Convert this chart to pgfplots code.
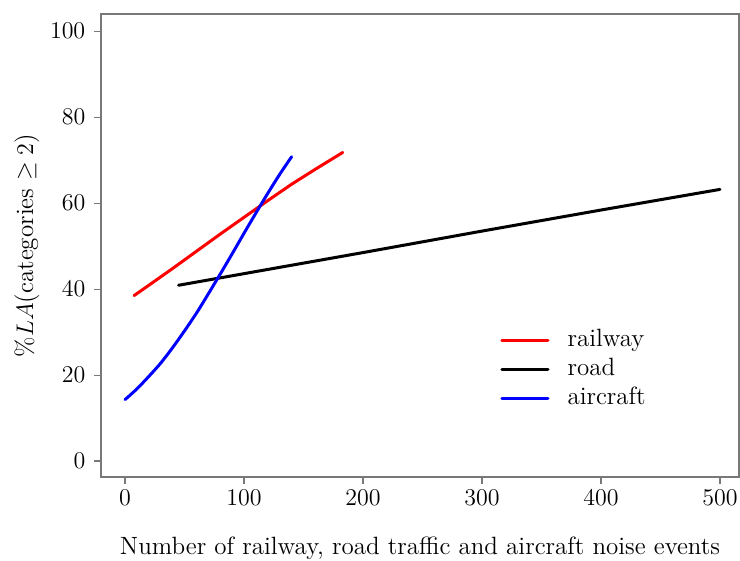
\documentclass[border=0pt]{standalone}
\usepackage{pgfplots}
\pgfplotsset{compat=1.18}
\definecolor{axgray}{RGB}{120,120,120}
\begin{document}
\fontsize{12.5}{15}\selectfont
\begin{tikzpicture}
\useasboundingbox (-50.5pt,-42pt) rectangle (319.5pt,238.5pt);
\begin{axis}[
  at={(0,0)}, anchor=south west,
  scale only axis, width=319pt, height=231.5pt,
  xmin=-20.2, xmax=516, ymin=-3.7, ymax=104,
  xtick={0,100,200,300,400,500},
  ytick={0,20,40,60,80,100},
  tick pos=left, tick align=outside, major tick length=3.5pt,
  axis line style={axgray, line width=0.6pt},
  tick style={axgray, line width=0.6pt},
  tick label style={black},
  xticklabel style={yshift=1.5pt},
  xlabel={Number of railway, road traffic and aircraft noise events},
  ylabel={\%$LA$(categories $\geq 2$)},
  xlabel style={at={(axis description cs:0.5,0)}, anchor=center, yshift=-35.5pt, black},
  ylabel style={at={(axis description cs:0,0.5)}, anchor=center, yshift=37pt, black},
  legend style={at={(axis description cs:0.6254,0.327)}, anchor=north west, draw=none, fill=none,
    inner sep=0pt, row sep=0pt, column sep=8pt,
    nodes={inner sep=1pt, text height=0.75em, text depth=0.25em, black}},
  legend cell align=left,
  legend image code/.code={\draw[#1] (0cm,0cm) -- (0.81cm,0cm);},
]
\addplot[red, line width=1.5pt, line cap=round] coordinates {
(7.6,38.5) (20,40.9) (40,44.8) (60,48.8) (80,52.8) (100,56.7) (120,60.6) (140,64.4) (160,67.9) (183,71.8)};
\addlegendentry{railway}
\addplot[black, line width=1.5pt, line cap=round] coordinates {
(45,40.9) (100,43.6) (200,48.5) (300,53.5) (400,58.4) (500,63.2)};
\addlegendentry{road}
\addplot[blue, line width=1.5pt, line cap=round, smooth] coordinates {
(0,14.3) (10,16.8) (20,19.7) (30,22.8) (40,26.4) (50,30.3) (60,34.4) (70,38.9) (80,43.5) (90,48.2) (100,53.0) (110,57.7) (120,62.3) (130,66.7) (140,70.8)};
\addlegendentry{aircraft}
\end{axis}
\end{tikzpicture}
\end{document}
